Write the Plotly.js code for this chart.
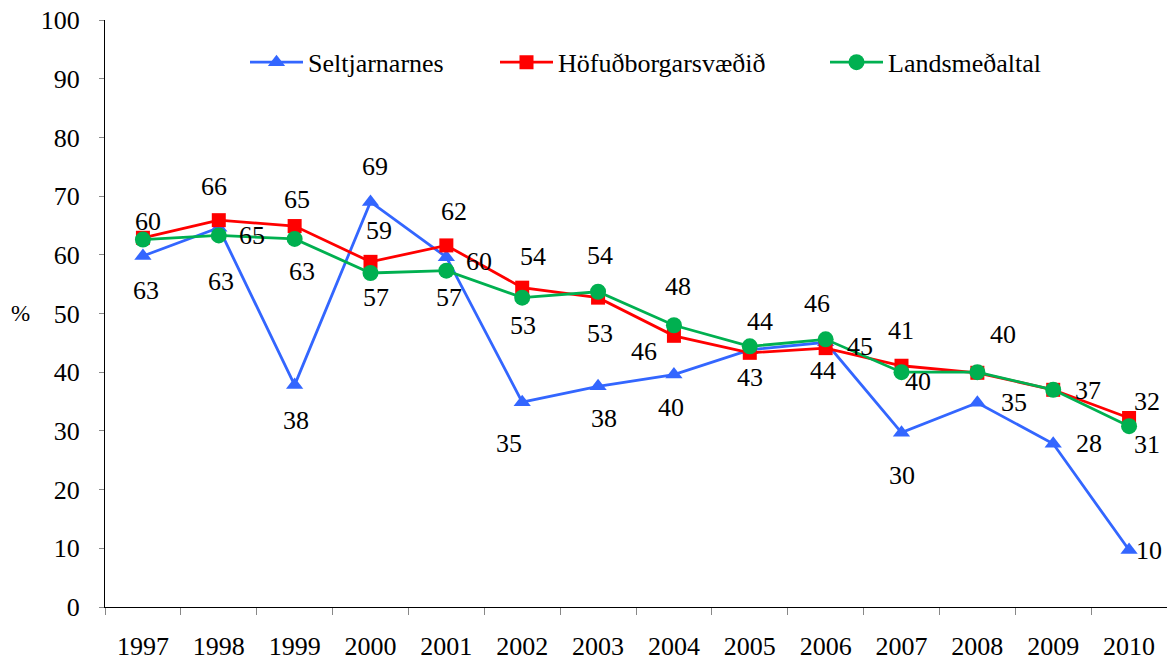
<!DOCTYPE html>
<html>
<head>
<meta charset="utf-8">
<script src="https://cdn.plot.ly/plotly-3.0.1.min.js"></script>
<style>html,body{margin:0;padding:0;background:#fff;}#chart{width:1167px;height:662px;}</style>
</head>
<body>
<div id="chart"></div>
<script>
// ---- data ----
var years = ['1997','1998','1999','2000','2001','2002','2003','2004','2005','2006','2007','2008','2009','2010'];
var seriesNames = ['Seltjarnarnes', 'Höfuðborgarsvæðið', 'Landsmeðaltal'];
var seltjarnarnes = [59.8, 64.6, 37.8, 69.0, 59.6, 34.9, 37.6, 39.6, 43.8, 45.1, 29.7, 34.8, 27.8, 9.7];
var hofudborgarsvaedid = [62.9, 65.9, 64.9, 58.8, 61.6, 54.4, 52.7, 46.2, 43.3, 44.1, 41.1, 39.9, 37.0, 32.2];
var landsmedaltal = [62.6, 63.3, 62.7, 56.9, 57.3, 52.7, 53.7, 48.0, 44.4, 45.6, 40.0, 40.0, 37.0, 30.8];

// ---- label placement (pixel offsets dx, dy; null = label hidden behind another) ----
var offBlue = [[5,-34],[33,8],[1,35],[4,-35],[33,4],[-13,41],[6,32],[-3,33],null,[34,4],[0,43],[37,0],[36,0],[20,0]];
var offRed = [[3,53],[-5,-34],[2,-27],[8,-31],[8,-34],[11,-31],[2,36],[-30,16],[0,25],[-3,22],[-1,-35],[26,-38],[35,1],[18,-16]];
var offGreen = [null,[2,46],[7,33],[5,24],[3,27],[1,28],[2,-36],[4,-39],[10,-25],[-9,-36],[16,9],null,null,[18,18]];

var FONT = 'Liberation Serif';
var FS = 26;
var colors = ['#3366FF', '#FF0000', '#00B050'];
var symbols = ['triangle-up', 'square', 'circle'];
var msizes = [15, 14, 16];
var vals = [seltjarnarnes, hofudborgarsvaedid, landsmedaltal];
var offs = [offBlue, offRed, offGreen];
var legendIds = ['legend', 'legend2', 'legend3'];

var traces = vals.map(function(v, k){
  return {
    x: years, y: v, type: 'scatter', mode: 'lines+markers', name: seriesNames[k],
    line: {color: colors[k], width: 2.8},
    marker: {symbol: symbols[k], size: msizes[k], color: colors[k]},
    legend: legendIds[k], hoverinfo: 'x+y'
  };
});

var annotations = [];
vals.forEach(function(v, k){
  v.forEach(function(val, i){
    var o = offs[k][i];
    if(!o) return;
    annotations.push({
      x: i, y: val, xref: 'x', yref: 'y', text: String(Math.round(val)),
      showarrow: false, xanchor: 'center', yanchor: 'middle',
      xshift: o[0], yshift: -o[1],
      font: {family: FONT, size: FS, color: '#000'}
    });
  });
});
annotations.push({
  xref: 'paper', yref: 'y', x: -0.08, y: 50, text: '%', showarrow: false,
  xanchor: 'center', yanchor: 'middle', font: {family: FONT, size: 23, color: '#000'}
});

function lg(px){
  return {
    orientation: 'h', yanchor: 'middle', xanchor: 'left', y: 0.928, x: (px - 105) / 1062,
    bgcolor: 'rgba(0,0,0,0)', borderwidth: 0, itemwidth: 53,
    font: {family: FONT, size: FS, color: '#000'}, itemclick: false, itemdoubleclick: false
  };
}

var layout = {
  width: 1167, height: 662,
  margin: {l: 105, r: 0, t: 20, b: 55},
  paper_bgcolor: '#fff', plot_bgcolor: '#fff',
  font: {family: FONT, size: FS, color: '#000'},
  showlegend: true,
  legend: lg(245), legend2: lg(495), legend3: lg(825),
  xaxis: {
    type: 'category', range: [-0.5, 13.5], tickson: 'boundaries',
    ticks: 'outside', ticklen: 7, tickwidth: 1, tickcolor: '#888',
    showline: true, linecolor: '#000', linewidth: 1.3, showgrid: false, zeroline: false,
    tickfont: {family: FONT, size: FS, color: '#000'}, ticklabelstandoff: 16, fixedrange: true
  },
  yaxis: {
    range: [0, 100], dtick: 10, tick0: 0, ticks: 'outside', ticklen: 5, tickwidth: 1, tickcolor: '#888',
    showline: true, linecolor: '#000', linewidth: 1.3, showgrid: false, zeroline: false,
    tickfont: {family: FONT, size: FS, color: '#000'}, ticklabelstandoff: 14, fixedrange: true
  },
  annotations: annotations
};

Plotly.newPlot('chart', traces, layout, {displayModeBar: false});
</script>
</body>
</html>
